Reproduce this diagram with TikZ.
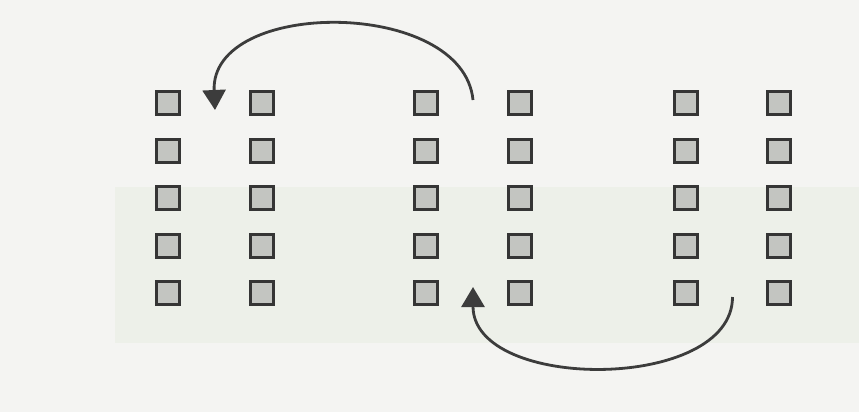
\documentclass[tikz,border=0pt]{standalone}
\usetikzlibrary{arrows.meta,calc}
\definecolor{paper}{HTML}{F4F4F2}
\definecolor{band}{HTML}{EDF0E9}
\definecolor{sqfill}{HTML}{C3C5C1}
\definecolor{sqline}{HTML}{353535}
\definecolor{arr}{HTML}{3C3C3C}
\tikzset{
  cell/.style={draw=sqline, fill=sqfill, line width=3pt, minimum size=23.5pt, inner sep=0pt, shape=rectangle},
  jump/.style={draw=arr, line width=2.8pt, -{Triangle[length=20pt,width=23pt]}}
}
\begin{document}
\begin{tikzpicture}[x=1pt,y=-1pt]
\fill[paper] (0,0) rectangle (859,412);
\useasboundingbox (0,0) rectangle (859,412);
\fill[band] (115,187) rectangle (859,343);
\foreach \c/\x in {1/168,2/262,3/426,4/520,5/686,6/779}{
  \foreach \r/\y in {1/103,2/151,3/198,4/246,5/293}{
    \node[cell] (s-\c-\r) at (\x,\y) {};
  }
}
\coordinate (t0) at ($($(s-3-1)!0.5!(s-4-1)$)+(0,-3)$);
\coordinate (t1) at ($($(s-1-1)!0.5!(s-2-1)$)+(0,7)$);
\coordinate (b0) at ($($(s-5-5)!0.5!(s-6-5)$)+(0,4)$);
\coordinate (b1) at ($($(s-3-5)!0.5!(s-4-5)$)+(0,-6)$);
\draw[jump] (t0) .. controls ($(t0|-0,0)+(-10,-2)$) and ($(t1|-0,0)+(-5,-2)$) .. (t1);
\draw[jump] (b0) .. controls ($(b0|-0,392)$) and ($(b1|-0,392)$) .. (b1);
\end{tikzpicture}
\end{document}
